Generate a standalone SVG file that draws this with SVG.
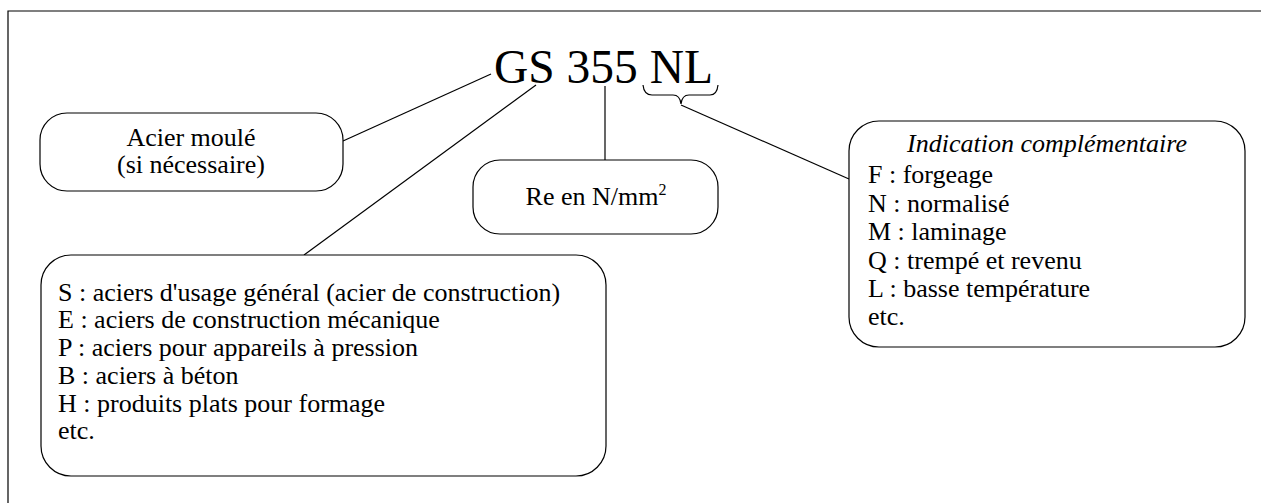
<svg xmlns="http://www.w3.org/2000/svg" width="1261" height="503" viewBox="0 0 1261 503">
<style>
.box{fill:#fff;stroke:#000;stroke-width:1.2}
.ln{fill:none;stroke:#000;stroke-width:1.2}
.c{text-anchor:middle}
.big{font-size:47.5px}
.it{font-style:italic}
</style>
<rect width="1261" height="503" fill="#fff"/>
<g id="frame"><path class="ln" d="M8,503 V11 H1261" stroke-width="1.5"/></g>
<g id="connectors">
<line class="ln" x1="343" y1="141" x2="491" y2="74"/>
<line class="ln" x1="536" y1="85" x2="304" y2="255"/>
<line class="ln" x1="605" y1="86" x2="605" y2="160"/>
<path class="ln" d="M643,85 Q644,95 652,95 H673 Q680,95 681,104 Q682,95 689,95 H710 Q717,95 718,85"/>
<line class="ln" x1="681" y1="105" x2="849" y2="179"/>
</g>
<g font-family="Liberation Serif, DejaVu Serif, serif" font-size="26" fill="#000">
<g id="title"><text class="big" x="494" y="83">GS 355 NL</text></g>
<g id="acier">
<rect class="box" x="40" y="113" width="303" height="78" rx="27"/>
<text class="c" x="191" y="145.5">Acier moulé</text>
<text class="c" x="191" y="173">(si nécessaire)</text>
</g>
<g id="re">
<rect class="box" x="473" y="160" width="245" height="74" rx="27"/>
<text class="c" x="596" y="205">Re en N/mm<tspan dy="-10" font-size="16">2</tspan></text>
</g>
<g id="nuance">
<rect class="box" x="41" y="255" width="565" height="221" rx="30"/>
<text x="58" y="300.5">S : aciers d'usage général (acier de construction)</text>
<text x="58" y="328">E : aciers de construction mécanique</text>
<text x="58" y="356">P : aciers pour appareils à pression</text>
<text x="58" y="384">B : aciers à béton</text>
<text x="58" y="411.5">H : produits plats pour formage</text>
<text x="58" y="439">etc.</text>
</g>
<g id="indication">
<rect class="box" x="849" y="121" width="396" height="226" rx="30"/>
<text class="c it" x="1047" y="152">Indication complémentaire</text>
<text x="868" y="183">F : forgeage</text>
<text x="868" y="211.5">N : normalisé</text>
<text x="868" y="240">M : laminage</text>
<text x="868" y="268.5">Q : trempé et revenu</text>
<text x="868" y="297">L : basse température</text>
<text x="868" y="325">etc.</text>
</g>
</g>
</svg>
